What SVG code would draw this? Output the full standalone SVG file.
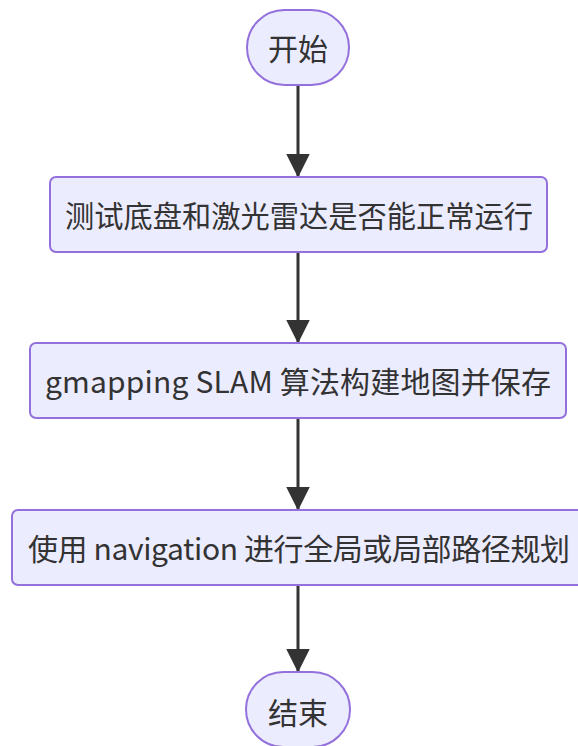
<svg xmlns="http://www.w3.org/2000/svg" width="578" height="746" viewBox="0 0 578 746">
<style>
.node{fill:#ECECFF;stroke:#9370DB;stroke-width:2}
.lbl{font-family:"Noto Sans CJK SC","Noto Sans",sans-serif;font-size:30px;fill:#333;text-anchor:middle;dominant-baseline:central}
.edge{stroke:#333;stroke-width:3;fill:none}
</style>
<defs>
<marker id="arr" markerWidth="8" markerHeight="8" refX="7.5" refY="4" orient="auto" markerUnits="strokeWidth">
<path d="M0,0 L8,4 L0,8 z" fill="#333"/>
</marker>
</defs>
<rect width="578" height="746" fill="#ffffff"/>
<g id="edges">
<line class="edge" x1="298" y1="86" x2="298" y2="176" marker-end="url(#arr)"/>
<line class="edge" x1="298" y1="253" x2="298" y2="342" marker-end="url(#arr)"/>
<line class="edge" x1="298" y1="419" x2="298" y2="509" marker-end="url(#arr)"/>
<line class="edge" x1="298" y1="585" x2="298" y2="671" marker-end="url(#arr)"/>
</g>
<g id="start">
<rect class="node" x="247" y="10" width="102" height="75" rx="37.5" ry="37.5"/>
<text class="lbl" x="298" y="47">开始</text>
</g>
<g id="test">
<rect class="node" x="50" y="177" width="497" height="75" rx="6" ry="6"/>
<text class="lbl" x="299" y="214" textLength="468" lengthAdjust="spacingAndGlyphs">测试底盘和激光雷达是否能正常运行</text>
</g>
<g id="slam">
<rect class="node" x="30" y="343" width="536" height="75" rx="6" ry="6"/>
<text class="lbl" x="298" y="380" textLength="506" lengthAdjust="spacing">gmapping SLAM 算法构建地图并保存</text>
</g>
<g id="nav">
<rect class="node" x="12" y="510" width="573" height="75" rx="6" ry="6"/>
<text class="lbl" x="299" y="547" textLength="542" lengthAdjust="spacing">使用 navigation 进行全局或局部路径规划</text>
</g>
<g id="end">
<rect class="node" x="246" y="672" width="104" height="75" rx="37.5" ry="37.5"/>
<text class="lbl" x="298" y="711">结束</text>
</g>
</svg>
